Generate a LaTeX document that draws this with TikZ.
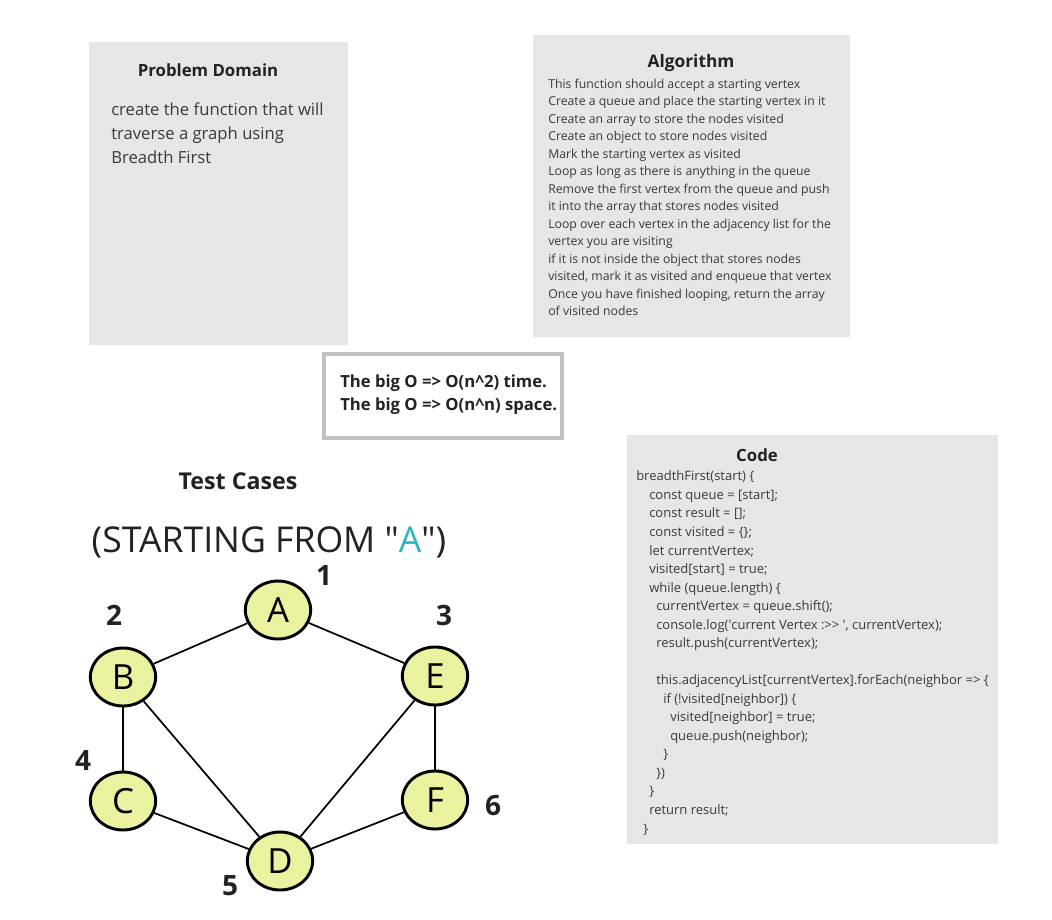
\documentclass[tikz,border=0pt]{standalone}
\usepackage{fontspec}
\setmainfont{Open Sans}
\usetikzlibrary{shapes.geometric}

\definecolor{panelgray}{HTML}{E6E6E6}
\definecolor{frameline}{HTML}{C2C2C2}
\definecolor{vertexfill}{HTML}{EAF29F}
\definecolor{startcyan}{HTML}{2AB4C7}
\definecolor{bodytext}{HTML}{3A3A3A}
\definecolor{headtext}{HTML}{222222}

\newcommand{\codeind}[1]{\hspace*{#1pt}}

\begin{document}
\begin{tikzpicture}[x=0.75pt,y=-0.75pt,
  head node/.style={font=\fontsize{12.6}{14}\selectfont\bfseries,text=headtext,inner sep=0,anchor=base},
  body node/.style={align=left,inner sep=0,anchor=base west,text=bodytext},
  vertex node/.style={ellipse,draw=black,line width=2.2pt,fill=vertexfill,
  minimum width=49pt,minimum height=43.5pt,inner sep=0,font=\fontsize{26}{26}\selectfont},
  order node/.style={inner sep=0,font=\fontsize{21}{21}\selectfont\bfseries,text=headtext},
  edge line/.style={draw=black,line width=1.3pt}]

  \useasboundingbox (0,0) rectangle (1052,920);

  % panels
  \fill[panelgray] (89,42) rectangle (348,345);
  \fill[panelgray] (533,35) rectangle (850,337);
  \fill[panelgray] (627,435) rectangle (998,844);
  \draw[frameline,line width=3pt] (324,354) rectangle (562,438);

  % problem domain (multi-line nodes sit on their last baseline)
  \node[head node] (PDH) at (208,77) {Problem Domain};
  \node[body node,font=\fontsize{12.5}{18}\selectfont] (PD) at (111,164)
    {create the function that will\\traverse a graph using\\Breadth First};

  % algorithm
  \node[head node,font=\fontsize{13}{14}\selectfont\bfseries] (ALH) at (691,68) {Algorithm};
  \node[body node,font=\fontsize{9.2}{13.1}\selectfont] (AL) at (548,315.5)
    {This function should accept a starting vertex\\
     Create a queue and place the starting vertex in it\\
     Create an array to store the nodes visited\\
     Create an object to store nodes visited\\
     Mark the starting vertex as visited\\
     Loop as long as there is anything in the queue\\
     Remove the first vertex from the queue and push\\
     it into the array that stores nodes visited\\
     Loop over each vertex in the adjacency list for the\\
     vertex you are visiting\\
     if it is not inside the object that stores nodes\\
     visited, mark it as visited and enqueue that vertex\\
     Once you have finished looping, return the array\\
     of visited nodes};

  % big O
  \node[body node,font=\fontsize{12.5}{17.25}\selectfont\bfseries,text=headtext] (BO) at (340,410)
    {The big O => O(n\textasciicircum 2) time.\\The big O => O(n\textasciicircum n) space.};

  % code
  \node[head node] (COH) at (757,461) {Code};
  \node[body node,font=\fontsize{9.75}{13.9}\selectfont] (CO) at (636,833)
    {breadthFirst(start) \{\\
     \codeind{9.75}const queue = [start];\\
     \codeind{9.75}const result = [];\\
     \codeind{9.75}const visited = \{\};\\
     \codeind{9.75}let currentVertex;\\
     \codeind{9.75}visited[start] = true;\\
     \codeind{9.75}while (queue.length) \{\\
     \codeind{15}currentVertex = queue.shift();\\
     \codeind{15}console.log(\textquotesingle current Vertex :>{}> \textquotesingle, currentVertex);\\
     \codeind{15}result.push(currentVertex);\\
     ~\\
     \codeind{15}this.adjacencyList[currentVertex].forEach(neighbor => \{\\
     \codeind{20.25}if (!visited[neighbor]) \{\\
     \codeind{25.5}visited[neighbor] = true;\\
     \codeind{25.5}queue.push(neighbor);\\
     \codeind{20.25}\}\\
     \codeind{15}\})\\
     \codeind{9.75}\}\\
     \codeind{9.75}return result;\\
     \codeind{5.25}\}};

  % test cases
  \node[head node,font=\fontsize{17.4}{18}\selectfont\bfseries] (TC) at (238,489) {Test Cases};
  \node[inner sep=0,anchor=base,font=\fontsize{26.7}{28}\selectfont,text=headtext] (SF) at (269,552)
    {(STARTING FROM \textquotedbl{\color{startcyan}A}\textquotedbl)};

  % graph
  \node[vertex node] (A) at (278,610) {A};
  \node[vertex node] (B) at (123,677) {B};
  \node[vertex node] (C) at (123,801) {C};
  \node[vertex node] (E) at (435,676) {E};
  \node[vertex node] (F) at (435,800) {F};
  \node[vertex node] (D) at (280,861) {D};

  \node[order node] (N1) at (324,575) {1};
  \node[order node] (N2) at (114,615) {2};
  \node[order node] (N3) at (444,615) {3};
  \node[order node] (N4) at (83,760) {4};
  \node[order node] (N5) at (230,886) {5};
  \node[order node] (N6) at (493,806) {6};

  \path[edge line]
    (A) edge (B)
    (A) edge (E)
    (B) edge (C)
    (B) edge (D)
    (C) edge (D)
    (E) edge (D)
    (E) edge (F)
    (F) edge (D);

\end{tikzpicture}
\end{document}
